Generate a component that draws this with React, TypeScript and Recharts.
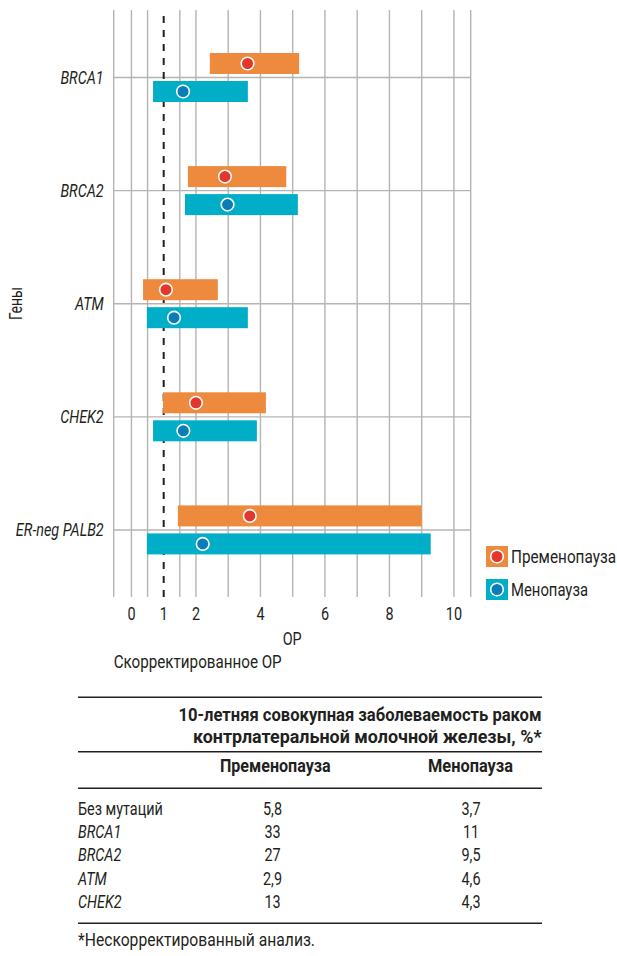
import React from 'react';
import { ComposedChart, Bar, XAxis, YAxis, ReferenceLine, Legend, Label } from 'recharts';

// Adjusted hazard ratios (point estimate and 95% CI) by gene
const genes = ['BRCA1', 'BRCA2', 'ATM', 'CHEK2', 'ER-neg PALB2'];
const preLow = [2.43, 1.75, 0.36, 0.98, 1.44];
const preHigh = [5.2, 4.8, 2.68, 4.17, 9.0];
const prePoint = [3.6, 2.9, 1.07, 2.0, 3.67];
const menoLow = [0.67, 1.66, 0.48, 0.67, 0.48];
const menoHigh = [3.61, 5.16, 3.61, 3.89, 9.28];
const menoPoint = [1.6, 2.98, 1.32, 1.61, 2.21];

const seriesNames = ['Пременопауза', 'Менопауза'];
const barColors = ['#EE8A3E', '#00AEC8'];
const dotColors = ['#E4362B', '#0A7DB8'];

const xTicks = [0, 1, 2, 4, 6, 8, 10];
const gridValues = [0, 0.5, 1.5, 2, 3, 4, 5, 6, 7, 8, 9, 10];
const xDomain: [number, number] = [-0.55, 10.52];

// 10-year cumulative incidence table
const tableRows = ['Без мутаций', 'BRCA1', 'BRCA2', 'ATM', 'CHEK2'];
const tableItalic = [false, true, true, true, true];
const tablePre = ['5,8', '33', '27', '2,9', '13'];
const tableMeno = ['3,7', '11', '9,5', '4,6', '4,3'];

const FONT = "Roboto, 'Liberation Sans', sans-serif";
const SX = 0.8; // horizontal squeeze for a condensed look
const INK = '#231F20';
const GRID = '#B4B4B4';

const data = genes.map((gene, i) => ({
  gene,
  pre: [preLow[i], preHigh[i]],
  prePoint: prePoint[i],
  meno: [menoLow[i], menoHigh[i]],
  menoPoint: menoPoint[i],
}));

type CTextProps = {
  x: number;
  y: number;
  anchor?: 'start' | 'middle' | 'end';
  size?: number;
  bold?: boolean;
  italic?: boolean;
  fit?: number;
  children: React.ReactNode;
};

// Condensed text: a regular face squeezed horizontally around its anchor point
const CText = ({ x, y, anchor = 'start', size = 18, bold, italic, fit, children }: CTextProps) => (
  <text
    transform={`translate(${x} ${y}) scale(${SX} 1)`}
    x={0}
    y={0}
    textAnchor={anchor}
    fontSize={size}
    fontWeight={bold ? 700 : 400}
    fontStyle={italic ? 'italic' : 'normal'}
    fontFamily={FONT}
    fill={INK}
    textLength={fit ? fit / SX : undefined}
    lengthAdjust={fit ? 'spacingAndGlyphs' : undefined}
  >
    {children}
  </text>
);

// Range bar with the point estimate placed along the bar through the same linear scale
const makeShape = (rangeKey: string, pointKey: string, fill: string, dot: string) => (props: any) => {
  const { x, y, width, height, payload } = props;
  const [lo, hi] = payload[rangeKey];
  const cx = x + (width * (payload[pointKey] - lo)) / (hi - lo);
  return (
    <g>
      <rect x={x} y={y} width={width} height={height} fill={fill} />
      <circle cx={cx} cy={y + height / 2} r={6.3} fill={dot} stroke="#fff" strokeWidth={1.6} />
    </g>
  );
};

const GeneTick = (props: any) => {
  const { x, y, payload } = props;
  return (
    <CText x={x} y={y + 6.4} anchor="end" italic>
      {payload.value}
    </CText>
  );
};

const ValueTick = (props: any) => {
  const { x, y, payload } = props;
  return (
    <CText x={x} y={y + 12.8} anchor="middle">
      {payload.value}
    </CText>
  );
};

const renderLegend = (props: any) => {
  const items = [...(props.payload || [])].sort(
    (a: any, b: any) => seriesNames.indexOf(a.value) - seriesNames.indexOf(b.value)
  );
  return (
    <svg width={131} height={56} style={{ display: 'block' }}>
      {items.map((entry: any, i: number) => {
        const idx = seriesNames.indexOf(entry.value);
        return (
          <g key={entry.value} transform={`translate(0, ${i * 33})`}>
            <rect x={0} y={0} width={22} height={21} fill={barColors[idx]} />
            <circle cx={11} cy={10.5} r={6.3} fill={dotColors[idx]} stroke="#fff" strokeWidth={1.6} />
            <CText x={25} y={17} fit={idx === 0 ? 105 : 77}>
              {entry.value}
            </CText>
          </g>
        );
      })}
    </svg>
  );
};

const App = () => {
  const rowY = (i: number) => 135 + i * 23.2;
  return (
    <div style={{ position: 'absolute', left: 0, top: 0, width: 617, height: 956, background: '#fff' }}>
      <ComposedChart
        width={617}
        height={680}
        data={data}
        layout="vertical"
        margin={{ top: 10, right: 146.3, bottom: 53, left: 13.7 }}
        barSize={21}
        barGap={7}
      >
        {gridValues.map((v) => (
          <ReferenceLine key={`g${v}`} x={v} stroke={GRID} strokeWidth={1.4} zIndex={-20} />
        ))}
        <ReferenceLine x={xDomain[0]} stroke={GRID} strokeWidth={1.4} zIndex={-20} />
        <ReferenceLine x={xDomain[1]} stroke={GRID} strokeWidth={1.4} zIndex={-20} />
        {genes.map((g) => (
          <ReferenceLine key={`h${g}`} y={g} stroke={GRID} strokeWidth={1.4} zIndex={-20} />
        ))}
        <ReferenceLine x={1} stroke={INK} strokeWidth={2} strokeDasharray="7 7" zIndex={-10} />
        <XAxis
          type="number"
          domain={xDomain}
          ticks={xTicks}
          interval={0}
          allowDataOverflow
          tickLine={false}
          axisLine={false}
          tickSize={0}
          tickMargin={10}
          height={30}
          tick={<ValueTick />}
        >
          <Label
            content={(p: any) => {
              const vb = p.viewBox;
              return (
                <g>
                  <CText x={vb.x + vb.width / 2} y={vb.y + 48} anchor="middle">ОР</CText>
                  <CText x={vb.x} y={vb.y + 71} fit={168}>Скорректированное ОР</CText>
                </g>
              );
            }}
          />
        </XAxis>
        <YAxis
          type="category"
          dataKey="gene"
          width={100}
          tickLine={false}
          axisLine={false}
          tickSize={0}
          tickMargin={10}
          padding={{ top: 11, bottom: 10.5 }}
          tick={<GeneTick />}
          interval={0}
        >
          <Label
            content={(p: any) => {
              const vb = p.viewBox;
              const x = vb.x + 8;
              const y = vb.y + vb.height / 2;
              return (
                <g transform={`rotate(-90 ${x} ${y})`}>
                  <CText x={x} y={y} anchor="middle" fit={33}>Гены</CText>
                </g>
              );
            }}
          />
        </YAxis>
        <Bar
          dataKey="pre"
          name={seriesNames[0]}
          fill={barColors[0]}
          isAnimationActive={false}
          shape={makeShape('pre', 'prePoint', barColors[0], dotColors[0])}
        />
        <Bar
          dataKey="meno"
          name={seriesNames[1]}
          fill={barColors[1]}
          isAnimationActive={false}
          shape={makeShape('meno', 'menoPoint', barColors[1], dotColors[1])}
        />
        <Legend
          layout="vertical"
          align="center"
          verticalAlign="middle"
          content={renderLegend}
          wrapperStyle={{ left: 486, top: 546, width: 131, height: 56 }}
        />
      </ComposedChart>

      <svg width={617} height={276} style={{ position: 'absolute', left: 0, top: 680 }}>
        <line x1={78} x2={542} y1={17.3} y2={17.3} stroke={INK} strokeWidth={1.5} />
        <line x1={78} x2={542} y1={71.7} y2={71.7} stroke={INK} strokeWidth={1.5} />
        <line x1={78} x2={542} y1={108.3} y2={108.3} stroke={INK} strokeWidth={1.5} />
        <line x1={78} x2={542} y1={243.3} y2={243.3} stroke={INK} strokeWidth={1.5} />
        <CText x={541.5} y={41} anchor="end" bold fit={363}>
          10-летняя совокупная заболеваемость раком
        </CText>
        <CText x={541.5} y={63.3} anchor="end" bold fit={348.5}>
          контрлатеральной молочной железы, %*
        </CText>
        <CText x={275.3} y={92} anchor="middle" bold fit={110.7}>
          {seriesNames[0]}
        </CText>
        <CText x={470.5} y={92} anchor="middle" bold fit={85}>
          {seriesNames[1]}
        </CText>
        {tableRows.map((r, i) => (
          <g key={r}>
            <CText x={78} y={rowY(i)} italic={tableItalic[i]}>
              {r}
            </CText>
            <CText x={272.5} y={rowY(i)} anchor="middle">
              {tablePre[i]}
            </CText>
            <CText x={471} y={rowY(i)} anchor="middle">
              {tableMeno[i]}
            </CText>
          </g>
        ))}
        <CText x={78} y={266} fit={237}>
          *Нескорректированный анализ.
        </CText>
      </svg>
    </div>
  );
};

export default App;
